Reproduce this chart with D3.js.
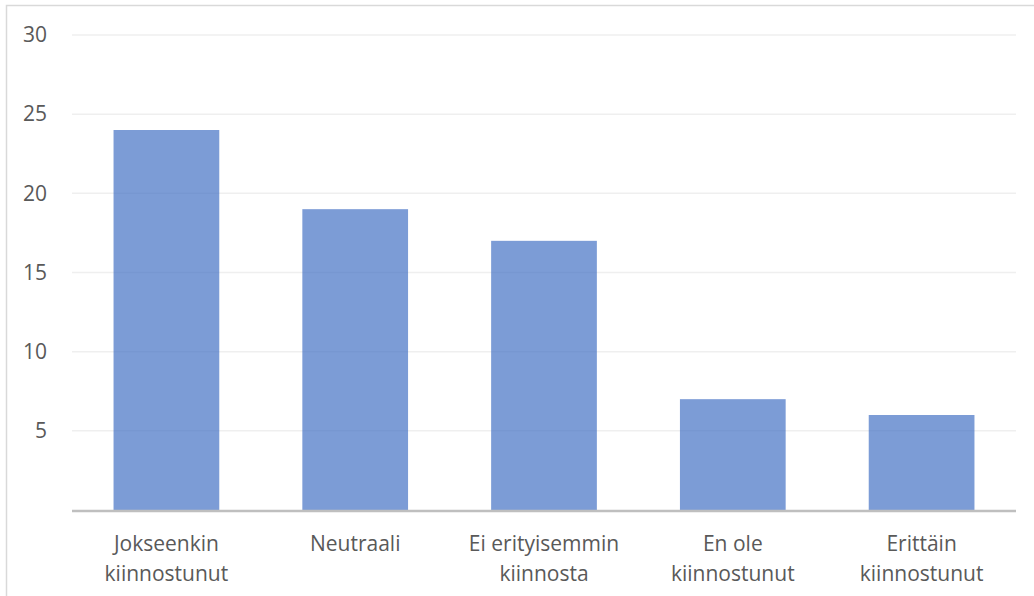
<!DOCTYPE html>
<html lang="fi">
<head>
<meta charset="UTF-8">
<script src="https://d3js.org/d3.v7.min.js"></script>
<style>
  body { margin: 0; background: #fff; }
  text { font-family: "Open Sans", "Noto Sans", sans-serif; fill: #595959; }
</style>
</head>
<body>
<div id="chart"></div>
<script>
  // data
  var categories = [
    ["Jokseenkin", "kiinnostunut"],
    ["Neutraali"],
    ["Ei erityisemmin", "kiinnosta"],
    ["En ole", "kiinnostunut"],
    ["Erittäin", "kiinnostunut"]
  ];
  var values = [24, 19, 17, 7, 6];
  var yTicks = [5, 10, 15, 20, 25, 30];

  var W = 1034, H = 596;
  var margin = {top: 35, right: 18, bottom: 86, left: 72};
  var width = W - margin.left - margin.right,
      height = H - margin.top - margin.bottom;

  var svg = d3.select("#chart").append("svg")
      .attr("width", W).attr("height", H);

  // outer frame
  svg.append("rect")
      .attr("x", 6.5).attr("y", 5.5)
      .attr("width", W + 20).attr("height", H + 20)
      .attr("fill", "none").attr("stroke", "#d9d9d9").attr("stroke-width", 1.5);

  var g = svg.append("g").attr("transform", "translate(" + margin.left + "," + margin.top + ")");

  var x = d3.scaleBand().domain(d3.range(values.length)).range([0, width]).paddingInner(0.44).paddingOuter(0.22);
  var y = d3.scaleLinear().domain([0, 30]).range([height, 0]);

  // gridlines
  g.selectAll(".grid").data(yTicks).enter().append("line")
      .attr("x1", 0).attr("x2", width)
      .attr("y1", d => y(d)).attr("y2", d => y(d))
      .attr("stroke", "#efefef").attr("stroke-width", 1.5);

  // y axis labels
  var yAxis = g.append("g").call(d3.axisLeft(y).tickValues(yTicks).tickSize(0).tickPadding(25));
  yAxis.select(".domain").remove();
  yAxis.selectAll("text").attr("font-size", "21px").attr("fill", "#595959")
      .style("font-family", "'Open Sans', sans-serif");

  // bars
  g.selectAll(".bar").data(values).enter().append("rect")
      .attr("x", (d, i) => x(i))
      .attr("width", x.bandwidth())
      .attr("y", d => y(d))
      .attr("height", d => height - y(d))
      .attr("fill", "#4472c4").attr("fill-opacity", 0.7);

  // baseline
  g.append("line").attr("x1", 0).attr("x2", width)
      .attr("y1", height + 1).attr("y2", height + 1)
      .attr("stroke", "#bfbfbf").attr("stroke-width", 2.5);

  // category labels
  var xAxis = g.append("g").attr("transform", "translate(0," + height + ")")
      .call(d3.axisBottom(x).tickSize(0).tickFormat(""));
  xAxis.select(".domain").remove();
  xAxis.selectAll(".tick").each(function(i) {
    var t = d3.select(this).append("text")
        .attr("text-anchor", "middle").attr("font-size", "21px");
    categories[i].forEach(function(line, k) {
      t.append("tspan").attr("x", 0).attr("y", 41 + k * 30).text(line);
    });
  });
</script>
</body>
</html>
